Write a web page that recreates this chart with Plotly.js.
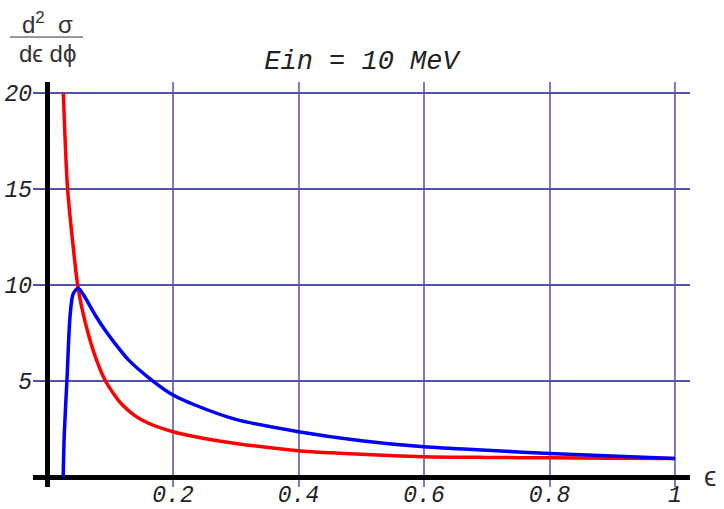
<!DOCTYPE html>
<html>
<head>
<meta charset="utf-8">
<script src="https://cdn.plot.ly/plotly-3.0.1.min.js"></script>
<style>html,body{margin:0;padding:0;background:#fff;}#chart{width:724px;height:509px;}</style>
</head>
<body>
<div id="chart"></div>
<script>
// Data
const blueEps = [0.025, 0.0268, 0.031, 0.036, 0.041, 0.049, 0.057, 0.0757, 0.0916, 0.1076, 0.129, 0.166, 0.2, 0.235, 0.3, 0.4, 0.5, 0.6, 0.7, 0.8, 0.9, 1.0];
const blueVal = [0, 2.3, 5.05, 8.4, 9.55, 9.83, 9.5, 8.45, 7.65, 6.95, 6.1, 5.05, 4.27, 3.75, 3.0, 2.36, 1.89, 1.57, 1.39, 1.23, 1.09, 0.97];
const redEps = [0.0252, 0.0279, 0.032, 0.0396, 0.048, 0.0545, 0.065, 0.078, 0.0916, 0.105, 0.118, 0.139, 0.161, 0.2, 0.25, 0.3, 0.4, 0.5, 0.6, 0.7, 0.8, 0.9, 1.0];
const redVal = [20, 17.7, 15, 12.4, 10, 8.85, 7.45, 6.1, 5.05, 4.35, 3.8, 3.2, 2.8, 2.36, 2.01, 1.75, 1.37, 1.18, 1.06, 1.02, 1.0, 0.98, 0.97];
const xTicks = [0.2, 0.4, 0.6, 0.8, 1];
const xTickText = ['0.2', '0.4', '0.6', '0.8', '1'];
const yTicks = [5, 10, 15, 20];
const yTickText = ['5', '10', '15', '20'];
const titleText = 'Ein = 10 MeV';

const tickFont = {family: 'Liberation Mono, Courier New, monospace', style: 'italic', size: 23, color: '#222'};

const traces = [
  {x: redEps, y: redVal, type: 'scatter', mode: 'lines', line: {color: '#ff0000', width: 3.5, shape: 'spline', smoothing: 0.8}, hoverinfo: 'skip'},
  {x: blueEps, y: blueVal, type: 'scatter', mode: 'lines', line: {color: '#0000ff', width: 3.5, shape: 'spline', smoothing: 0.8}, hoverinfo: 'skip'}
];

const layout = {
  width: 724, height: 509,
  margin: {l: 33, r: 34, t: 82, b: 22, pad: 0},
  paper_bgcolor: '#fff', plot_bgcolor: '#fff',
  showlegend: false,
  title: {text: titleText, font: {family: 'Liberation Mono, Courier New, monospace', style: 'italic', size: 27, color: '#222'},
          x: 0.5, xref: 'paper', y: 1 - 60/509, yref: 'container', yanchor: 'middle'},
  xaxis: {range: [-0.02311, 1.0239], tickvals: xTicks, ticktext: xTickText, tickfont: tickFont, ticklabelstandoff: -9,
          showgrid: true, gridcolor: '#7b7bc4', gridwidth: 2, zeroline: true, zerolinecolor: '#000', zerolinewidth: 5,
          showline: false, ticks: '', fixedrange: true},
  yaxis: {range: [-0.5208, 20.573], tickvals: yTicks, ticktext: yTickText, tickfont: tickFont,
          showgrid: true, gridcolor: '#5252a8', gridwidth: 1.5, zeroline: true, zerolinecolor: '#000', zerolinewidth: 5,
          showline: false, ticks: '', fixedrange: true},
  shapes: [
    {type: 'line', xref: 'paper', yref: 'y', x0: 0, x1: 1, y0: 5, y1: 5, line: {color: '#00005a', width: 1.5}, layer: 'below'},
    {type: 'line', xref: 'paper', yref: 'paper', x0: -0.035, x1: 0.0761, y0: 1.111, y1: 1.111, line: {color: '#333', width: 1}}
  ],
  annotations: [
    {text: 'd<sup>2</sup>  σ', xref: 'paper', yref: 'paper', x: 0.0228, y: 1.145, showarrow: false, xanchor: 'center', yanchor: 'middle',
     font: {family: 'Liberation Sans, Arial, sans-serif', size: 24, color: '#333'}},
    {text: 'dϵ dϕ', xref: 'paper', yref: 'paper', x: 0.0228, y: 1.07, showarrow: false, xanchor: 'center', yanchor: 'middle',
     font: {family: 'Liberation Sans, Arial, sans-serif', size: 24, color: '#333'}},
    {text: 'ϵ', xref: 'paper', yref: 'paper', x: 1.0304, y: 0.0247, showarrow: false, xanchor: 'center', yanchor: 'middle',
     font: {family: 'Liberation Sans, Arial, sans-serif', size: 28, color: '#333'}}
  ]
};

Plotly.newPlot('chart', traces, layout, {staticPlot: true, displayModeBar: false});
</script>
</body>
</html>
